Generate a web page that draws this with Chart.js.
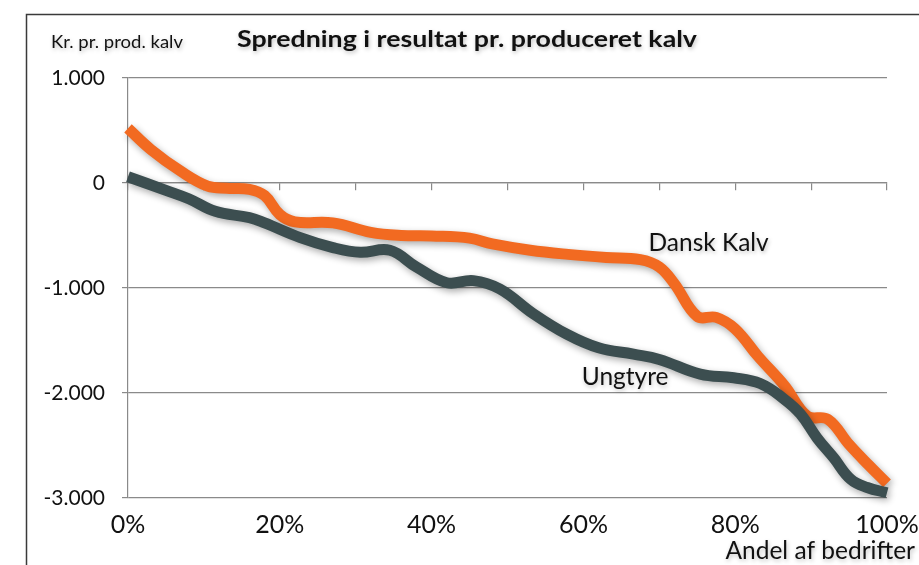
<!DOCTYPE html>
<html>
<head>
<meta charset="utf-8">
<script src="https://cdn.jsdelivr.net/npm/chart.js@4"></script>
<style>
html,body{margin:0;padding:0;background:#fff;}
#wrap{position:relative;width:919px;height:565px;}
</style>
</head>
<body>
<div id="wrap"><canvas id="c" width="919" height="565"></canvas></div>
<script>
// ---- data ----
const titleText = "Spredning i resultat pr. produceret kalv";
const yAxisTitle = "Kr. pr. prod. kalv";
const xAxisTitle = "Andel af bedrifter";
const seriesNames = ["Dansk Kalv", "Ungtyre"];

const dkPct = [0, 3, 7, 10.5, 13, 16, 18, 20, 22, 27, 32, 36, 40, 45, 48, 53, 58, 63, 67.5, 70, 72, 75, 77.5, 80, 83, 86.5, 89.5, 92.2, 95, 97.5, 100];
const dkVal = [520, 320, 110, -30, -50, -60, -120, -300, -370, -380, -470, -500, -505, -525, -580, -640, -680, -710, -730, -800, -960, -1270, -1280, -1390, -1650, -1930, -2220, -2250, -2490, -2680, -2860];

const utPct = [0, 5, 8, 11.5, 16, 18, 22.7, 27, 30.6, 34.5, 38, 42, 45.5, 49, 53.4, 57.8, 62, 66.6, 70, 75.4, 79.8, 83.3, 86.4, 88.6, 90.8, 93, 95.2, 97.4, 100];
const utVal = [60, -70, -150, -270, -330, -380, -520, -615, -660, -640, -800, -950, -930, -1010, -1245, -1440, -1570, -1630, -1680, -1820, -1855, -1910, -2055, -2200, -2430, -2620, -2820, -2900, -2950];

const yTicks = [1000, 0, -1000, -2000, -3000];
const xTicks = [0, 20, 40, 60, 80, 100];

// label anchor points (data coordinates)
const labelPos = [{x: 76.5, y: -577}, {x: 65.5, y: -1845}];

const FONT = "Lato, 'Open Sans', 'DejaVu Sans', sans-serif";
const colors = ["#F26A21", "#3C4E50"];

function fmtK(v){
  if (v === 0) return "0";
  const s = v < 0 ? "-" : "";
  return s + Math.abs(v)/1000 + ".000";
}

const shadowPlugin = {
  id: 'shadow',
  beforeDatasetDraw(chart){
    const ctx = chart.ctx;
    ctx.save();
    ctx.shadowColor = 'rgba(0,0,0,0.33)';
    ctx.shadowBlur = 7;
    ctx.shadowOffsetX = 2;
    ctx.shadowOffsetY = 3;
  },
  afterDatasetDraw(chart){
    chart.ctx.restore();
  }
};

// draw text stretched to a given width (left-aligned at x)
function fitText(ctx, txt, x, y, w){
  const m = ctx.measureText(txt).width;
  ctx.save();
  ctx.translate(x, y);
  ctx.scale(w / m, 1);
  ctx.textAlign = 'left';
  ctx.fillText(txt, 0, 0);
  ctx.restore();
}

const textPlugin = {
  id: 'texts',
  afterDraw(chart){
    const ctx = chart.ctx;
    const xs = chart.scales.x, ys = chart.scales.y;
    ctx.save();
    // frame
    ctx.strokeStyle = '#3a3a3a';
    ctx.lineWidth = 1.5;
    ctx.beginPath();
    ctx.moveTo(26.5, 565);
    ctx.lineTo(26.5, 14.5);
    ctx.lineTo(919, 14.5);
    ctx.stroke();

    ctx.shadowColor = 'rgba(0,0,0,0.25)';
    ctx.shadowBlur = 4;
    ctx.shadowOffsetX = 1;
    ctx.shadowOffsetY = 2;
    ctx.fillStyle = '#111';
    ctx.textBaseline = 'middle';
    ctx.font = "17px " + FONT;
    fitText(ctx, yAxisTitle, 51, 43, 132);
    ctx.font = "bold 22px " + FONT;
    fitText(ctx, titleText, 237, 40, 460);
    ctx.font = "24.5px " + FONT;
    ctx.textAlign = 'right';
    ctx.fillText(xAxisTitle, 915, 551);
    ctx.textAlign = 'center';
    seriesNames.forEach((n, i) => {
      ctx.fillText(n, xs.getPixelForValue(labelPos[i].x), ys.getPixelForValue(labelPos[i].y));
    });
    ctx.restore();
  }
};

new Chart(document.getElementById('c'), {
  type: 'line',
  data: {
    datasets: [
      { label: seriesNames[0], data: dkPct.map((p, i) => ({x: p, y: dkVal[i]})),
        borderColor: colors[0], borderWidth: 11, tension: 0.4, pointRadius: 0, clip: false, borderCapStyle: 'butt', order: 1 },
      { label: seriesNames[1], data: utPct.map((p, i) => ({x: p, y: utVal[i]})),
        borderColor: colors[1], borderWidth: 11, tension: 0.4, pointRadius: 0, clip: false, borderCapStyle: 'butt', order: 0 }
    ]
  },
  options: {
    responsive: false,
    animation: false,
    layout: { padding: { top: 78, right: 32, left: 0, bottom: 0 } },
    plugins: { legend: { display: false }, tooltip: { enabled: false } },
    scales: {
      x: {
        type: 'linear', min: 0, max: 100,
        afterBuildTicks: s => { s.ticks = xTicks.map(v => ({value: v})); },
        afterFit: s => { s.height = 67; s.paddingRight = 0; s.paddingLeft = 0; },
        grid: { display: false, drawTicks: false },
        border: { display: false },
        ticks: { callback: v => v + '%', color: '#111', font: { family: FONT, size: 25 }, padding: 12, maxRotation: 0, autoSkip: false }
      },
      x2: {
        type: 'linear', min: 0, max: 100, position: { y: 0 },
        ticks: { display: false, stepSize: 10 },
        afterFit: s => { s.paddingRight = 0; s.paddingLeft = 0; },
        grid: { drawOnChartArea: false, drawTicks: true, tickLength: 7, color: '#8a8a8a', lineWidth: 1.2 },
        border: { display: true, color: '#8a8a8a', width: 1.2 }
      },
      y: {
        type: 'linear', min: -3000, max: 1000,
        afterBuildTicks: s => { s.ticks = yTicks.map(v => ({value: v})); },
        afterFit: s => { s.width = 128; s.paddingTop = 0; s.paddingBottom = 0; },
        grid: { color: '#8a8a8a', lineWidth: 1.2, tickLength: 6 },
        border: { display: true, color: '#8a8a8a', width: 1.2 },
        ticks: { callback: v => fmtK(v), color: '#111', font: { family: FONT, size: 21 }, padding: 17 }
      }
    }
  },
  plugins: [shadowPlugin, textPlugin]
});
</script>
</body>
</html>
